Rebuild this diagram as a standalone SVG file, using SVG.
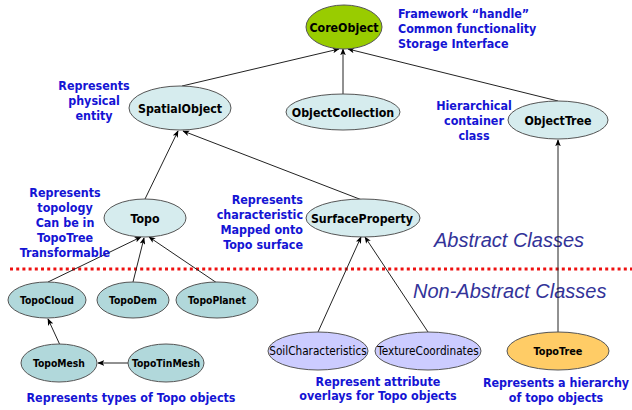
<svg xmlns="http://www.w3.org/2000/svg" width="632" height="410" viewBox="0 0 632 410">
<style>
.n{stroke:#555;stroke-width:1}
.lt{fill:#d6ecee}
.dk{fill:#b1d8db}
.pu{fill:#ccccff}
.t{font-family:"DejaVu Sans Condensed","Liberation Sans",Arial,sans-serif;font-weight:bold;fill:#000;text-anchor:middle}
.b{font-size:12.3px}
.s{font-size:10.3px}
.r{font-size:11.7px;font-weight:normal}
.a{font-family:"DejaVu Sans Condensed","Liberation Sans",Arial,sans-serif;font-weight:bold;font-size:12.4px;fill:#1414d4}
.big{font-family:"Liberation Sans",Arial,sans-serif;font-style:italic;font-size:20px;fill:#333399}
.c line{stroke:#222;stroke-width:1;marker-end:url(#ah)}
</style>
<defs>
<marker id="ah" viewBox="0 0 10 8" refX="9" refY="4" markerWidth="7" markerHeight="6" orient="auto" markerUnits="userSpaceOnUse">
<path d="M0,0 L10,4 L0,8 L2.5,4 z" fill="#000"/>
</marker>
</defs>
<rect width="632" height="410" fill="#fff"/>
<line x1="10" y1="269" x2="632" y2="269" stroke="#ee1111" stroke-width="3" stroke-dasharray="3 3.2"/>
<text class="big" x="434" y="247">Abstract Classes</text>
<text class="big" x="413" y="298">Non-Abstract Classes</text>
<g class="c">
<line x1="182" y1="86" x2="339" y2="49"/>
<line x1="343" y1="94" x2="343" y2="49"/>
<line x1="558" y1="101" x2="348" y2="49"/>
<line x1="145" y1="199" x2="178" y2="131"/>
<line x1="362" y1="200" x2="183" y2="131"/>
<line x1="48" y1="282" x2="141" y2="237"/>
<line x1="133" y1="282" x2="144" y2="238"/>
<line x1="217" y1="283" x2="149" y2="237"/>
<line x1="60" y1="345" x2="48" y2="319"/>
<line x1="128" y1="363" x2="98" y2="363"/>
<line x1="318" y1="332" x2="361" y2="237"/>
<line x1="428" y1="332" x2="365" y2="237"/>
<line x1="558" y1="332" x2="558" y2="140"/>
</g>
<g id="CoreObject"><ellipse class="n" cx="344" cy="27" rx="38" ry="22" fill="#99cc00"/><text class="t b" x="344" y="31.5">CoreObject</text></g>
<g id="SpatialObject"><ellipse class="n lt" cx="180" cy="108" rx="51" ry="22"/><text class="t b" x="180" y="112.5">SpatialObject</text></g>
<g id="ObjectCollection"><ellipse class="n lt" cx="343" cy="112" rx="57" ry="18"/><text class="t b" x="343" y="116.5">ObjectCollection</text></g>
<g id="ObjectTree"><ellipse class="n lt" cx="558" cy="120" rx="50" ry="19"/><text class="t b" x="558" y="124.5">ObjectTree</text></g>
<g id="Topo"><ellipse class="n lt" cx="145" cy="218" rx="41" ry="19"/><text class="t b" x="145" y="222.5">Topo</text></g>
<g id="SurfaceProperty"><ellipse class="n lt" cx="363" cy="218" rx="57" ry="19"/><text class="t b" x="362" y="222.5">SurfaceProperty</text></g>
<g id="TopoCloud"><ellipse class="n dk" cx="47" cy="300" rx="39" ry="18"/><text class="t s" x="47" y="304">TopoCloud</text></g>
<g id="TopoDem"><ellipse class="n dk" cx="133" cy="300" rx="36" ry="18"/><text class="t s" x="133" y="304">TopoDem</text></g>
<g id="TopoPlanet"><ellipse class="n dk" cx="217" cy="300" rx="41" ry="18"/><text class="t s" x="217" y="304">TopoPlanet</text></g>
<g id="TopoMesh"><ellipse class="n dk" cx="59" cy="363" rx="38" ry="19"/><text class="t s" x="59" y="367">TopoMesh</text></g>
<g id="TopoTinMesh"><ellipse class="n dk" cx="166" cy="363" rx="38" ry="19"/><text class="t s" x="166" y="367">TopoTinMesh</text></g>
<g id="SoilCharacteristics"><ellipse class="n pu" cx="318" cy="351" rx="50" ry="19"/><text class="t r" x="318" y="355">SoilCharacteristics</text></g>
<g id="TextureCoordinates"><ellipse class="n pu" cx="428" cy="351" rx="53" ry="19"/><text class="t r" x="428" y="355">TextureCoordinates</text></g>
<g id="TopoTree"><ellipse class="n" cx="558" cy="351" rx="51" ry="19" fill="#ffcc66"/><text class="t" style="font-size:10.8px" x="558" y="355">TopoTree</text></g>
<g id="annotations">
<text class="a" x="398" y="18">Framework “handle”</text>
<text class="a" x="398" y="33">Common functionality</text>
<text class="a" x="398" y="48">Storage Interface</text>
<text class="a" text-anchor="middle" x="94" y="90">Represents</text>
<text class="a" text-anchor="middle" x="94" y="105">physical</text>
<text class="a" text-anchor="middle" x="94" y="120">entity</text>
<text class="a" text-anchor="middle" x="474" y="110">Hierarchical</text>
<text class="a" text-anchor="middle" x="474" y="125">container</text>
<text class="a" text-anchor="middle" x="474" y="140">class</text>
<text class="a" text-anchor="middle" x="65" y="197">Represents</text>
<text class="a" text-anchor="middle" x="65" y="212">topology</text>
<text class="a" text-anchor="middle" x="65" y="227">Can be in</text>
<text class="a" text-anchor="middle" x="65" y="242">TopoTree</text>
<text class="a" text-anchor="middle" x="65" y="257">Transformable</text>
<text class="a" text-anchor="end" x="303" y="204">Represents</text>
<text class="a" text-anchor="end" x="303" y="219">characteristic</text>
<text class="a" text-anchor="end" x="303" y="234">Mapped onto</text>
<text class="a" text-anchor="end" x="303" y="249">Topo surface</text>
<text class="a" text-anchor="middle" x="131" y="402">Represents types of Topo objects</text>
<text class="a" text-anchor="middle" x="378" y="386">Represent attribute</text>
<text class="a" text-anchor="middle" x="378" y="400">overlays for Topo objects</text>
<text class="a" text-anchor="middle" x="556" y="387">Represents a hierarchy</text>
<text class="a" text-anchor="middle" x="556" y="402">of topo objects</text>
</g>
</svg>
